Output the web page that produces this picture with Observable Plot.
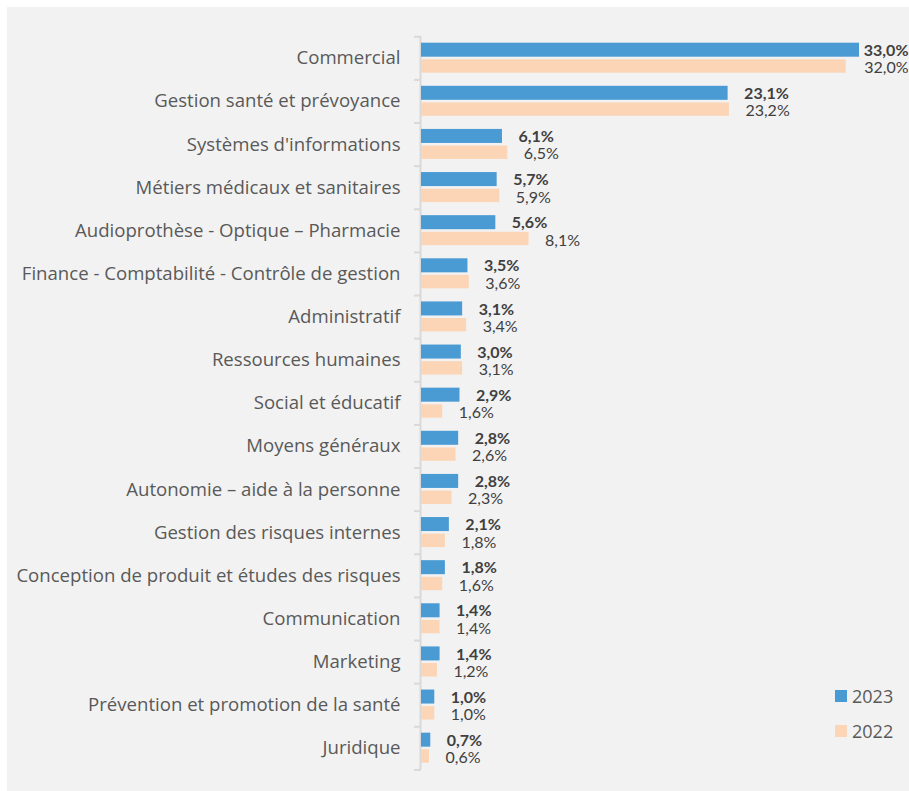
<!DOCTYPE html>
<html>
<head>
<meta charset="utf-8">
<script src="https://cdn.jsdelivr.net/npm/d3@7"></script>
<script src="https://cdn.jsdelivr.net/npm/@observablehq/plot@0.6"></script>
<style>
  html, body { margin: 0; padding: 0; background: #ffffff; }
  #panel { position: absolute; left: 7px; top: 7px; width: 902px; height: 784px; background: #f2f2f2; overflow: hidden; }
  #panel svg { position: absolute; left: 0; top: 0; overflow: visible; }
  .legend { position: absolute; left: 828px; font-family: "Open Sans", sans-serif; font-size: 18px; color: #595959; }
  .legend .item { display: flex; align-items: center; height: 35px; }
  .legend .sw { width: 12px; height: 12px; margin-right: 5px; }
</style>
</head>
<body>
<div id="panel"></div>
<script>
const categories = [
  "Commercial",
  "Gestion santé et prévoyance",
  "Systèmes d'informations",
  "Métiers médicaux et sanitaires",
  "Audioprothèse - Optique – Pharmacie",
  "Finance - Comptabilité - Contrôle de gestion",
  "Administratif",
  "Ressources humaines",
  "Social et éducatif",
  "Moyens généraux",
  "Autonomie – aide à la personne",
  "Gestion des risques internes",
  "Conception de produit et études des risques",
  "Communication",
  "Marketing",
  "Prévention et promotion de la santé",
  "Juridique"
];
const values2023 = [33.0, 23.1, 6.1, 5.7, 5.6, 3.5, 3.1, 3.0, 2.9, 2.8, 2.8, 2.1, 1.8, 1.4, 1.4, 1.0, 0.7];
const values2022 = [32.0, 23.2, 6.5, 5.9, 8.1, 3.6, 3.4, 3.1, 1.6, 2.6, 2.3, 1.8, 1.6, 1.4, 1.2, 1.0, 0.6];
const seriesNames = ["2023", "2022"];
const seriesColors = ["#4a9bd3", "#fbd5b5"];

const rows = categories.map((c, i) => ({i, c, v23: values2023[i], v22: values2022[i]}));
const fmt = v => v.toFixed(1).replace(".", ",") + "%";
const n = categories.length;
const xMax = d3.max([...values2023, ...values2022]);
const fitsRight = v => v < xMax - 1.5;

const chart = Plot.plot({
  width: 902,
  height: 784,
  marginLeft: 414,
  marginRight: 50,
  marginTop: 29.3,
  marginBottom: 21.6,
  style: {background: "transparent", fontFamily: "Lato, sans-serif"},
  x: {domain: [0, xMax], axis: null},
  y: {domain: [0, n], reverse: true, axis: null},
  marks: [
    Plot.ruleX([0], {stroke: "#d9d9d9", strokeWidth: 2, dx: -1}),
    Plot.axisY({ticks: d3.range(n + 1), tickSize: 7, tickFormat: () => "", stroke: "#d9d9d9", strokeWidth: 2, label: null}),
    Plot.rect(rows, {x1: 0, x2: "v23", y1: d => d.i + 0.148, y2: d => d.i + 0.473, fill: seriesColors[0]}),
    Plot.rect(rows, {x1: 0, x2: "v22", y1: d => d.i + 0.533, y2: d => d.i + 0.844, fill: seriesColors[1]}),
    Plot.text(rows, {x: 0, y: d => d.i + 0.5, text: "c", textAnchor: "end", dx: -21, fontSize: 18.6, fontFamily: "Open Sans", fill: "#595959"}),
    Plot.text(rows.filter(d => fitsRight(d.v23)), {x: "v23", y: d => d.i + 0.31, text: d => fmt(d.v23), textAnchor: "start", dx: 16, dy: 0.5, fontSize: 16, fontWeight: "bold", fill: "#404040"}),
    Plot.text(rows.filter(d => !fitsRight(d.v23)), {frameAnchor: "right", y: d => d.i + 0.31, text: d => fmt(d.v23), textAnchor: "end", dx: 49, dy: 0.5, fontSize: 16, fontWeight: "bold", fill: "#404040"}),
    Plot.text(rows.filter(d => fitsRight(d.v22)), {x: "v22", y: d => d.i + 0.69, text: d => fmt(d.v22), textAnchor: "start", dx: 16, dy: 1.5, fontSize: 16, fill: "#404040"}),
    Plot.text(rows.filter(d => !fitsRight(d.v22)), {frameAnchor: "right", y: d => d.i + 0.69, text: d => fmt(d.v22), textAnchor: "end", dx: 49, dy: 1.5, fontSize: 16, fill: "#404040"})
  ]
});
const panel = document.getElementById("panel");
panel.appendChild(chart);

const legend = document.createElement("div");
legend.className = "legend";
legend.style.top = "671px";
seriesNames.forEach((s, k) => {
  const item = document.createElement("div");
  item.className = "item";
  const sw = document.createElement("span");
  sw.className = "sw";
  sw.style.background = seriesColors[k];
  const t = document.createElement("span");
  t.textContent = s;
  item.appendChild(sw);
  item.appendChild(t);
  legend.appendChild(item);
});
panel.appendChild(legend);
</script>
</body>
</html>
